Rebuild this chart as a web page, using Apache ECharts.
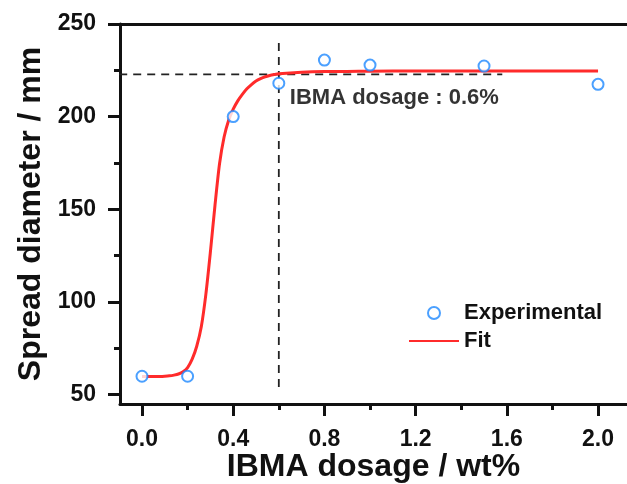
<!DOCTYPE html>
<html>
<head>
<meta charset="utf-8">
<script src="https://cdn.jsdelivr.net/npm/echarts@6/dist/echarts.min.js"></script>
<style>
  html, body { margin: 0; padding: 0; background: #fff; }
  #chart { width: 627px; height: 484px; }
</style>
</head>
<body>
<div id="chart"></div>
<script>
// Measured spread diameter at each IBMA dosage
const expDosage = [0.0, 0.2, 0.4, 0.6, 0.8, 1.0, 1.5, 2.0];
const expSpread = [59.8, 59.8, 200.0, 218.0, 230.5, 227.8, 227.3, 217.4];

// Sigmoidal fit curve, sampled along the dosage axis
const fitDosage = [0.00, 0.02, 0.04, 0.06, 0.08, 0.10, 0.12, 0.14, 0.16, 0.18,
                   0.20, 0.22, 0.24, 0.26, 0.28, 0.30, 0.32, 0.34, 0.36, 0.38,
                   0.40, 0.42, 0.44, 0.46, 0.48, 0.50, 0.52, 0.54, 0.56, 0.58,
                   0.60, 0.70, 0.80, 0.90, 1.00, 1.20, 1.40, 1.60, 1.80, 2.00];
const fitSpread = [59.6, 59.6, 59.6, 59.7, 59.7, 59.8, 60.0, 60.4, 61.0, 62.2,
                   64.5, 69.0, 76.0, 86.5, 104.0, 127.0, 152.0, 174.5, 189.0, 198.0,
                   204.0, 208.5, 212.0, 215.0, 217.3, 219.2, 220.5, 221.5, 222.2, 222.7,
                   223.1, 223.9, 224.3, 224.4, 224.5, 224.6, 224.6, 224.6, 224.6, 224.6];

// Guide lines marking the critical dosage
const criticalDosage = 0.6;
const criticalSpread = 222.8;
const guideVSpan = [54, 240];
const guideHSpan = [-0.1, 1.58];

// Tick positions
const xTicksMajor = [0.0, 0.4, 0.8, 1.2, 1.6, 2.0];
const xTicksMinor = [0.2, 0.6, 1.0, 1.4, 1.8];
const yTicksMajor = [50, 100, 150, 200, 250];
const yTicksMinor = [75, 125, 175, 225];

const xMin = -0.0965, xMax = 2.127;
const yMin = 44.8, yMax = 250;

const FONT = "'Liberation Sans', Arial, Helvetica, sans-serif";
const INK = '#111';
const RED = '#ff2b2b';
const BLUE = '#1e88ff';

const chart = echarts.init(document.getElementById('chart'), null, { renderer: 'canvas' });

const pairs = (xs, ys) => xs.map((x, i) => [x, ys[i]]);

const option = {
  backgroundColor: '#fff',
  animation: false,
  grid: { left: 120, top: 24, right: 0, bottom: 80, containLabel: false, outerBoundsMode: 'none' },
  legend: {
    data: ['Experimental', { name: 'Fit', itemStyle: { opacity: 0 } }],
    orient: 'vertical',
    left: 408,
    top: 302,
    padding: 0,
    itemWidth: 50,
    itemHeight: 12,
    itemGap: 6,
    textStyle: { fontFamily: FONT, fontWeight: 'bold', fontSize: 22, color: INK, lineHeight: 21 }
  },
  xAxis: [
    {
      type: 'value', min: xMin, max: xMax, position: 'bottom',
      name: 'IBMA dosage / wt%', nameLocation: 'middle', nameGap: 47, nameMoveOverlap: false,
      nameTextStyle: { fontFamily: FONT, fontWeight: 'bold', fontSize: 32, color: INK },
      axisLine: { show: true, onZero: false, lineStyle: { color: INK, width: 3 } },
      axisTick: { show: true, customValues: xTicksMajor, length: 12, lineStyle: { color: INK, width: 3 } },
      axisLabel: { show: true, customValues: xTicksMajor, margin: 24, formatter: v => v.toFixed(1),
        fontFamily: FONT, fontWeight: 'bold', fontSize: 23, color: INK },
      splitLine: { show: false }
    },
    {
      type: 'value', min: xMin, max: xMax, position: 'bottom',
      axisLine: { show: false, onZero: false },
      axisTick: { show: true, customValues: xTicksMinor, length: 6, lineStyle: { color: INK, width: 3 } },
      axisLabel: { show: false },
      splitLine: { show: false }
    },
    {
      type: 'value', min: xMin, max: xMax, position: 'top',
      axisLine: { show: true, onZero: false, lineStyle: { color: INK, width: 3 } },
      axisTick: { show: false }, axisLabel: { show: false }, splitLine: { show: false }
    }
  ],
  yAxis: [
    {
      type: 'value', min: yMin, max: yMax, position: 'left',
      name: 'Spread diameter / mm', nameLocation: 'middle', nameGap: 72,
      nameTextStyle: { fontFamily: FONT, fontWeight: 'bold', fontSize: 32, color: INK },
      axisLine: { show: true, onZero: false, lineStyle: { color: INK, width: 3 } },
      axisTick: { show: true, customValues: yTicksMajor, length: 12, lineStyle: { color: INK, width: 3 } },
      axisLabel: { show: true, customValues: yTicksMajor, margin: 24,
        fontFamily: FONT, fontWeight: 'bold', fontSize: 23, color: INK },
      splitLine: { show: false }
    },
    {
      type: 'value', min: yMin, max: yMax, position: 'left',
      axisLine: { show: false, onZero: false },
      axisTick: { show: true, customValues: yTicksMinor, length: 6, lineStyle: { color: INK, width: 3 } },
      axisLabel: { show: false },
      splitLine: { show: false }
    }
  ],
  series: [
    {
      name: 'guideV', type: 'line', xAxisIndex: 0, yAxisIndex: 0, silent: true,
      data: [[criticalDosage, guideVSpan[0]], [criticalDosage, guideVSpan[1]]],
      symbol: 'none', lineStyle: { color: '#222', width: 1.8, type: [8, 6] }, z: 1
    },
    {
      name: 'guideH', type: 'line', xAxisIndex: 0, yAxisIndex: 0, silent: true,
      data: [[guideHSpan[0], criticalSpread], [guideHSpan[1], criticalSpread]],
      symbol: 'none', lineStyle: { color: '#222', width: 1.8, type: [8, 6] }, z: 1
    },
    {
      name: 'Fit', type: 'line', xAxisIndex: 0, yAxisIndex: 0,
      data: pairs(fitDosage, fitSpread),
      smooth: 0.25, symbol: 'none', showSymbol: false,
      itemStyle: { color: RED },
      lineStyle: { color: RED, width: 3 }, z: 2
    },
    {
      name: 'Experimental', type: 'scatter', xAxisIndex: 0, yAxisIndex: 0,
      data: pairs(expDosage, expSpread),
      symbol: 'emptyCircle', symbolSize: 11,
      itemStyle: { color: BLUE, borderColor: BLUE, borderWidth: 2.4 }, z: 3
    },
    {
      name: 'note', type: 'scatter', xAxisIndex: 0, yAxisIndex: 0, silent: true,
      data: [[criticalDosage, criticalSpread]],
      symbolSize: 0,
      label: {
        show: true, position: 'right', offset: [6, 24],
        formatter: 'IBMA dosage : ' + criticalDosage.toFixed(1) + '%',
        fontFamily: FONT, fontWeight: 'bold', fontSize: 22, color: '#000'
      }, z: 4
    }
  ]
};

chart.setOption(option);
</script>
</body>
</html>
